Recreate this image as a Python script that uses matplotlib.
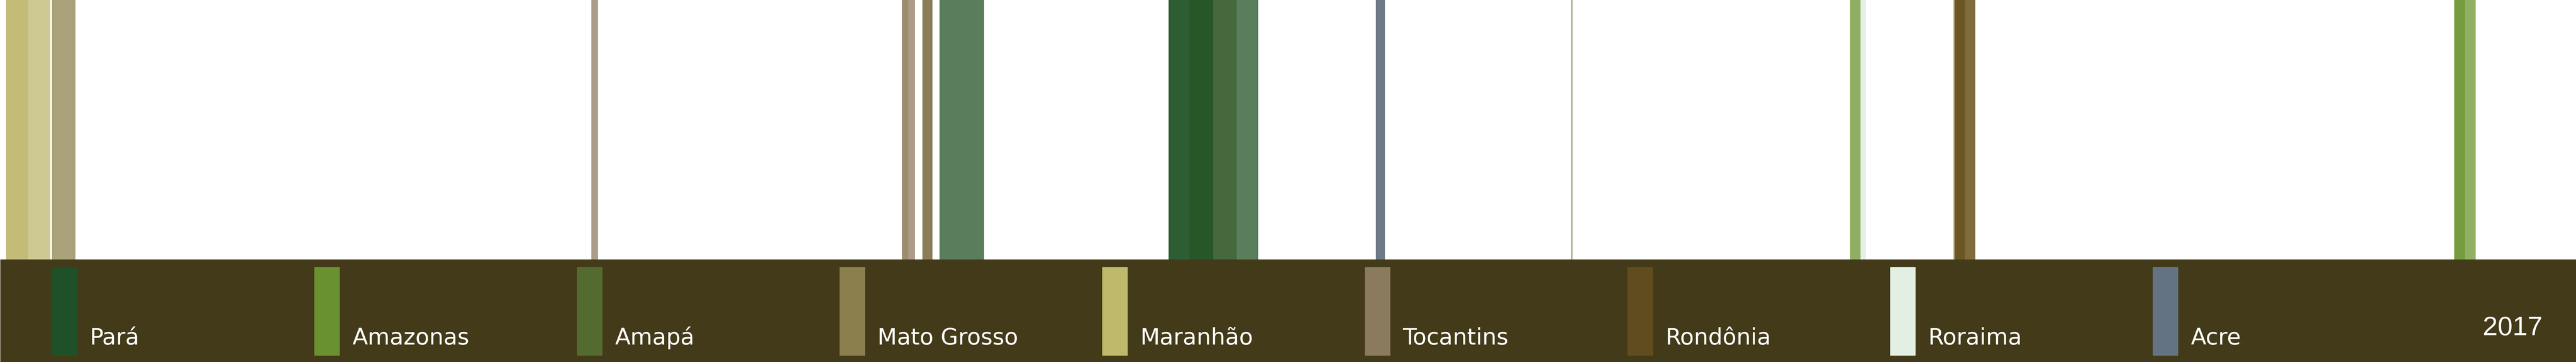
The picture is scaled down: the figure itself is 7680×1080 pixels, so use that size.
import numpy as np
import matplotlib
matplotlib.use('Agg')
import matplotlib.pyplot as plt

# stripes along the timeline (x units, start/end) and their colours
stripe_start = [18, 84, 155, 1763, 2689, 2708, 2750, 2801, 3484, 3546, 3617, 3687,
                4102, 4685, 5516, 5547, 5823, 5827, 5858, 7317, 7349]
stripe_end = [84, 150, 225, 1783, 2708, 2728, 2780, 2934, 3546, 3617, 3687, 3751,
              4129, 4688, 5547, 5563, 5827, 5858, 5889, 7349, 7381]
stripe_color = ['#c3bb78', '#cec992', '#a9a17a', '#ab9d88', '#9d8b6d', '#ac9c86',
                '#8b7d57', '#5a7e5c', '#2e5d33', '#275629', '#46683d', '#5a7e5c',
                '#6e7b87', '#5e7e3a', '#90ae63', '#e4efe5', '#c9c48f', '#6a5625',
                '#806c3b', '#769c3f', '#92b064']

states = ['Pará', 'Amazonas', 'Amapá', 'Mato Grosso', 'Maranhão',
          'Tocantins', 'Rondônia', 'Roraima', 'Acre']
state_colors = ['#1f5027', '#6a9130', '#546b2f', '#8b804d', '#bfb96b',
                '#8b7a5e', '#604c1e', '#e2efe2', '#647384']
year = '2017'

W, H = 7680, 1080
BAND = 306          # height of the legend band
BAND_COLOR = '#433a19'

fig = plt.figure(figsize=(W / 100, H / 100), dpi=100)
fig.patch.set_facecolor('white')
ax = fig.add_axes([0, 0, 1, 1])
ax.set_xlim(0, W)
ax.set_ylim(0, H)
ax.axis('off')

starts = np.array(stripe_start)
widths = np.array(stripe_end) - starts
ax.bar(starts, H, width=widths, align='edge', color=stripe_color,
       linewidth=0, antialiased=False)

# legend band
ax.bar(1, BAND, width=W - 1, align='edge', color=BAND_COLOR, linewidth=0,
       antialiased=False, zorder=3)

step = 783
sw_x = 154 + step * np.arange(len(states))
ax.bar(sw_x, 264, width=76, bottom=19, align='edge', color=state_colors,
       linewidth=0, antialiased=False, zorder=4)
for x, name in zip(sw_x, states):
    ax.text(x + 113, 52, name, color='white', fontsize=48.5,
            family='DejaVu Sans', va='baseline', ha='left', zorder=5)

ax.text(7402, 80, year, color='white', fontsize=57.6,
        family='Liberation Sans', va='baseline', ha='left', zorder=5)

fig.savefig('out.png', dpi=100, facecolor='white')
